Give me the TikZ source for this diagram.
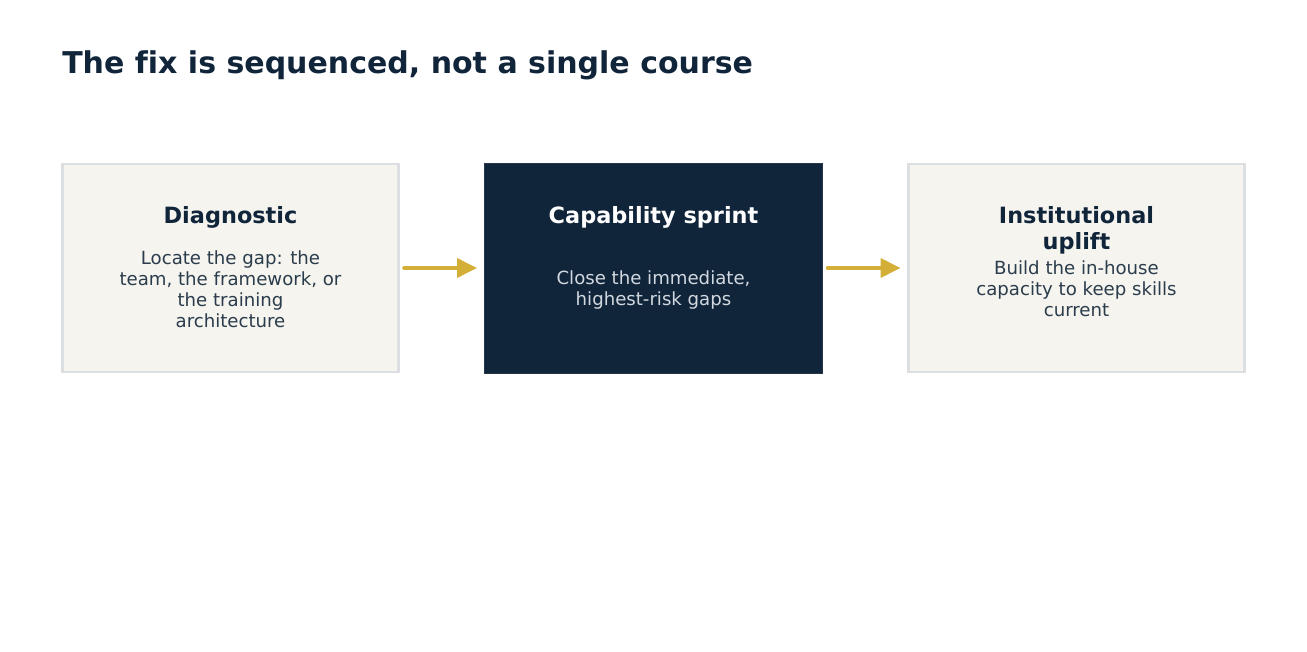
\documentclass[tikz,border=0pt]{standalone}
\usepackage{fontspec}
\setmainfont[Ligatures=NoCommon]{DejaVu Sans}
\usepackage{tikz}
\usetikzlibrary{arrows.meta, positioning}
\definecolor{fixnavy}{HTML}{10243A}
\definecolor{fixcream}{HTML}{F5F4EF}
\definecolor{fixedge}{HTML}{DCDFE2}
\definecolor{fixgold}{HTML}{D4AF37}
\definecolor{fixslate}{HTML}{2B3C4C}
\definecolor{fixmist}{HTML}{D2D8DF}

\begin{document}
\begin{tikzpicture}[
    x=0.75pt, y=-0.75pt,
    phase/.style={rectangle, draw=fixedge, fill=fixcream, line width=1.8pt, minimum width=252pt, minimum height=156pt, inner sep=0pt},
    phasedark/.style={rectangle, draw=fixnavy!80!gray, fill=fixnavy, line width=0.6pt, minimum width=254pt, minimum height=157.5pt, inner sep=0pt},
    head/.style={font=\fontsize{16.8}{19.5}\selectfont\bfseries, text=fixnavy, align=center, inner sep=0pt},
    body/.style={font=\fontsize{13.6}{15.75}\selectfont, text=fixslate, align=center, inner sep=0pt},
    arrow/.style={-{Triangle[length=15pt, width=14pt]}, line width=3.2pt, line cap=round, fixgold, shorten <=3.5pt, shorten >=5pt}
]
\useasboundingbox (0,0) rectangle (1307,652);

% Title
\node[anchor=base west, inner sep=0pt, font=\fontsize{22.5}{26}\selectfont\bfseries, text=fixnavy] (title) at (62,74) {The fix is sequenced, not a single course};

% Boxes
\node[phase] (diag) at (230.5,268) {};
\node[phasedark] (sprint) at (653.5,268) {};
\node[phase] (uplift) at (1076.5,268) {};

% Box texts
\node[head] (diag-head) at (230.5,217) {Diagnostic};
\node[body] (diag-body) at (230.5,289) {Locate the gap: the\\team, the framework, or\\the training\\architecture};

\node[head, text=white] (sprint-head) at (653.5,217) {Capability sprint};
\node[body, text=fixmist] (sprint-body) at (653.5,289.5) {Close the immediate,\\highest-risk gaps};

\node[head] (uplift-head) at (1076.5,230) {Institutional\\uplift};
\node[body] (uplift-body) at (1076.5,289) {Build the in-house\\capacity to keep skills\\current};

% Edges
\draw[arrow] (diag) -- (sprint);
\draw[arrow] (sprint) -- (uplift);
\end{tikzpicture}
\end{document}
